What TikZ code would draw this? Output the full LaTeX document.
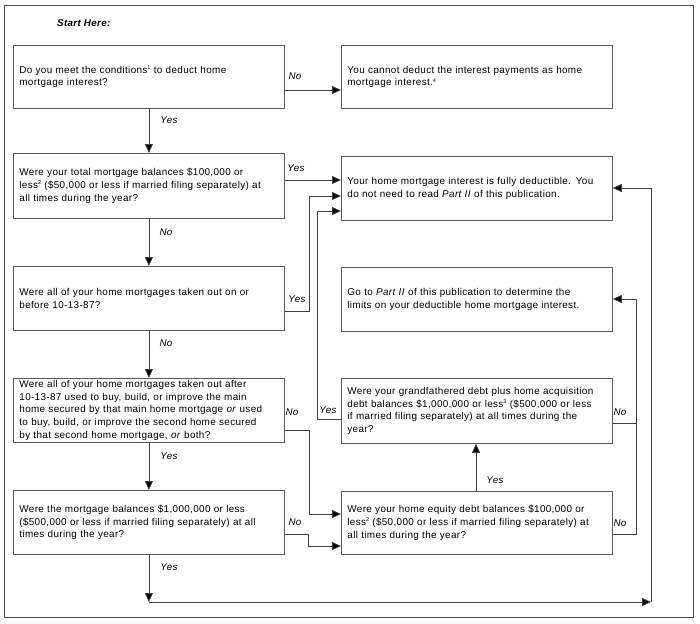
\documentclass[tikz,border=0pt]{standalone}
\usepackage{fontspec}
\setmainfont{Liberation Sans}[LetterSpace=3.5]
\usetikzlibrary{arrows.meta,calc}
\newcommand\fnmk[1]{\raisebox{3.6pt}{\fontsize{5.5}{6}\selectfont #1}}
\begin{document}
\begin{tikzpicture}[x=1pt,y=-1pt,
  box/.style={draw=black!65, line width=0.8pt, anchor=north west, minimum width=271pt, minimum height=63pt,
    text width=259pt, inner xsep=6pt, inner ysep=0pt, align=left, font=\fontsize{9.9}{12.7}\selectfont},
  conn/.style={draw=black!75, line width=0.8pt},
  arr/.style={conn, -{Triangle[length=9pt,width=8pt,fill=black]}},
  lbl/.style={font=\fontsize{9.8}{11}\selectfont\itshape, inner sep=0pt}]
\useasboundingbox (0,0) rectangle (700,623);
\draw[draw=black!70, line width=0.8pt] (4,5) rectangle (693,617);
\node[font=\fontsize{9.8}{11}\selectfont\bfseries\itshape, anchor=west, inner sep=0pt] (start) at (57,23) {Start Here:};

\node[box] (q1) at (13,45) {Do you meet the conditions\fnmk{1} to deduct home\\mortgage interest?};
\node[box] (r1) at (341,45) {You cannot deduct the interest payments as home\\mortgage interest.\fnmk{4}};
\node[box, minimum height=65pt] (q2) at (13,153) {Were your total mortgage balances \$100,000 or\\less\fnmk{2} (\$50,000 or less if married filing separately) at\\all times during the year?};
\node[box, minimum height=64pt] (r2) at (341,156) {Your home mortgage interest is fully deductible. You\\do not need to read \textit{Part II} of this publication.};
\node[box, minimum height=64pt] (q3) at (13,266) {Were all of your home mortgages taken out on or\\before 10-13-87?};
\node[box, minimum height=64pt] (r3) at (341,267) {Go to \textit{Part II} of this publication to determine the\\limits on your deductible home mortgage interest.};
\node[box, minimum height=64pt] (q4) at (13,378) {Were all of your home mortgages taken out after\\10-13-87 used to buy, build, or improve the main\\home secured by that main home mortgage \textit{or} used\\to buy, build, or improve the second home secured\\by that second home mortgage, \textit{or} both?};
\node[box, minimum height=65pt] (q6) at (341,378) {Were your grandfathered debt plus home acquisition\\debt balances \$1,000,000 or less\fnmk{3} (\$500,000 or less\\if married filing separately) at all times during the\\year?};
\node[box, minimum height=64pt] (q5) at (13,490) {Were the mortgage balances \$1,000,000 or less\\(\$500,000 or less if married filing separately) at all\\times during the year?};
\node[box, minimum height=63pt] (q7) at (341,491) {Were your home equity debt balances \$100,000 or\\less\fnmk{2} (\$50,000 or less if married filing separately) at\\all times during the year?};

\coordinate (c3) at (309,196);
\coordinate (c4) at (309,514);
\coordinate (c5) at (308,546);
\coordinate (c6) at (317,211);
\coordinate (cr) at (636,299);
\coordinate (cb) at (q5.south |- 0,602);
\coordinate (cbr) at (651,602);
\coordinate (cr2) at (651,188);

% Q1
\draw[arr] ([yshift=-45pt]q1.north east) -- ([yshift=-45pt]q1.north east -| r1.west);
\draw[arr] (q1.south) -- (q2.north);
% Q2
\draw[arr] ([yshift=-27pt]q2.north east) -- ([yshift=-27pt]q2.north east -| r2.west);
\draw[arr] (q2.south) -- (q3.north);
% Q3
\draw[arr] ([yshift=-45pt]q3.north east) -| (c3) -- (c3 -| r2.west);
\draw[arr] (q3.south) -- (q4.north);
% Q4
\draw[arr] ([yshift=-52pt]q4.north east) -| (c4) -- (c4 -| q7.west);
\draw[arr] (q4.south) -- (q5.north);
% Q5
\draw[arr] ([yshift=-44pt]q5.north east) -| (c5) -- (c5 -| q7.west);
\draw[arr] (q5.south) -- (cb);
\draw[arr] (cb) -- (cbr);
\draw[arr] (cbr) -- (cr2) -- (cr2 -| r2.east);
% Q6
\draw[arr] ([yshift=-41pt]q6.north west) -| (c6) -- (c6 -| r2.west);
\draw[arr] ([yshift=-45pt]q6.north east) -| (cr) -- (cr -| r3.east);
% Q7
\draw[conn] ([yshift=-43pt]q7.north east) -| ([yshift=-45pt]q6.north east -| cr);
\draw[arr] (q7.north -| 476,0) -- (q6.south -| 476,0);

% labels
\node[lbl] (l1) at (295,76) {No};
\node[lbl] (l2) at (169,120) {Yes};
\node[lbl] (l3) at (296,168) {Yes};
\node[lbl] (l4) at (166,232) {No};
\node[lbl] (l5) at (297,299) {Yes};
\node[lbl] (l6) at (166,343) {No};
\node[lbl] (l7) at (292,412) {No};
\node[lbl] (l8) at (169,456) {Yes};
\node[lbl] (l9) at (295,522) {No};
\node[lbl] (l10) at (169,567) {Yes};
\node[lbl] (l11) at (328,410) {Yes};
\node[lbl] (l12) at (620,412) {No};
\node[lbl] (l13) at (620,523) {No};
\node[lbl] (l14) at (495,480) {Yes};
\end{tikzpicture}
\end{document}
